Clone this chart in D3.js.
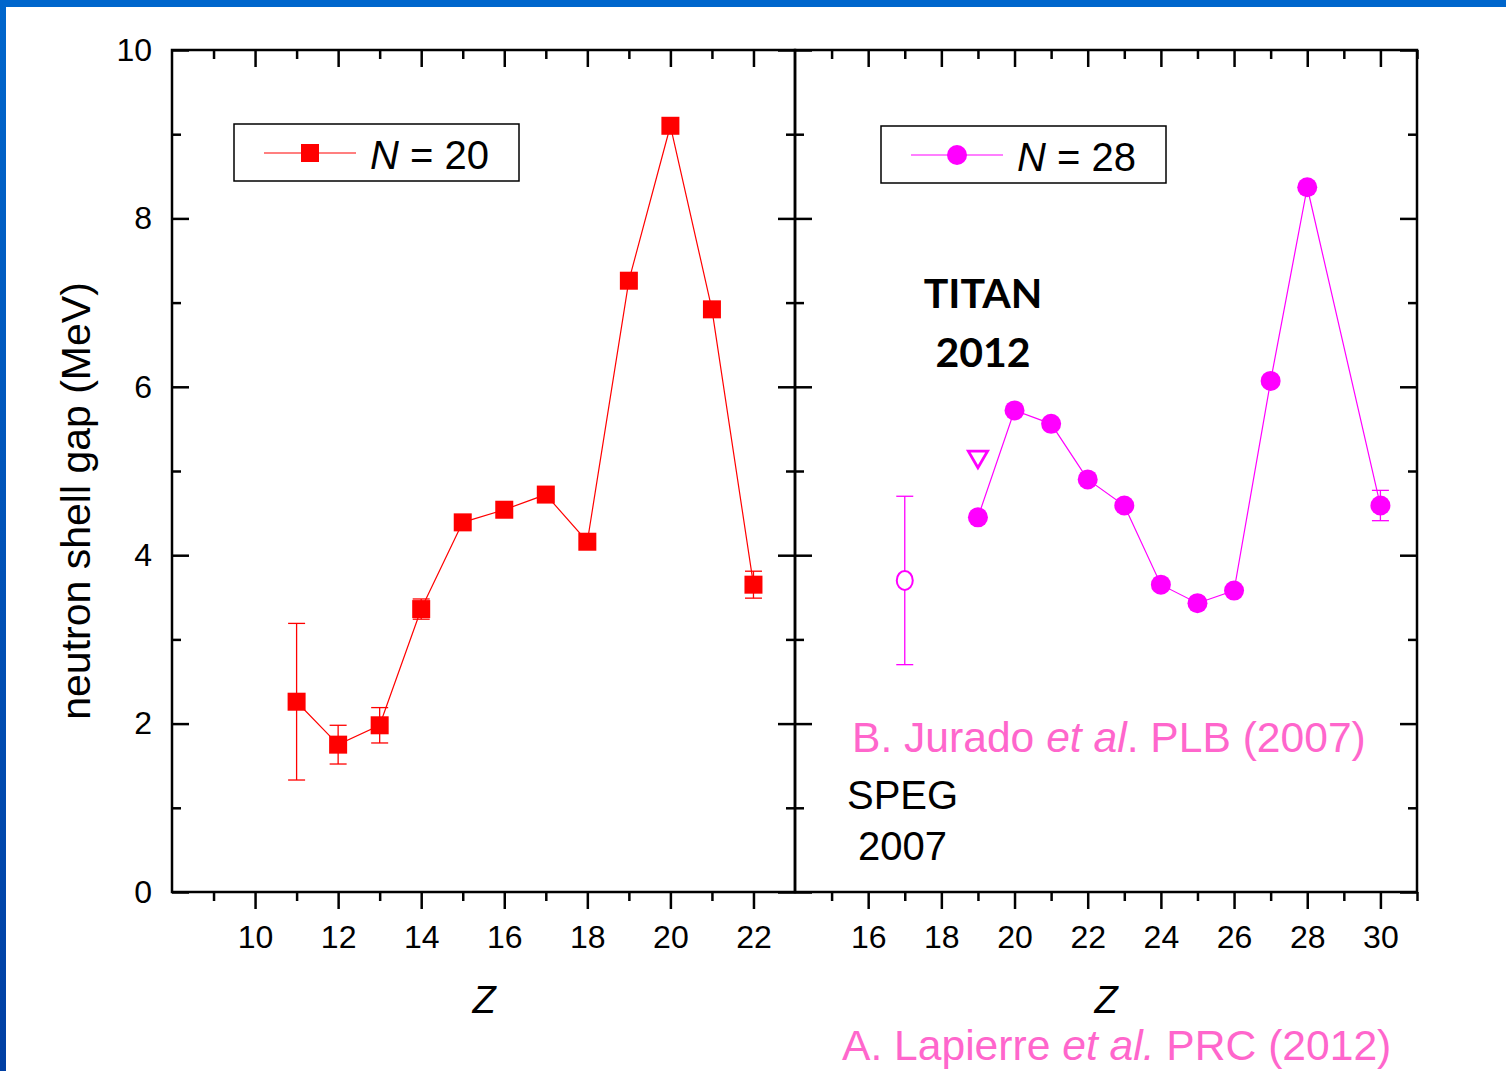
<!DOCTYPE html>
<html>
<head>
<meta charset="utf-8">
<script src="https://cdn.jsdelivr.net/npm/d3@7"></script>
<style>
  html, body { margin: 0; padding: 0; background: #fff; }
  svg { display: block; }
  text { font-family: "Liberation Sans", Arial, sans-serif; }
</style>
</head>
<body>
<svg id="chart" width="1506" height="1071"></svg>
<script>
// N = 20 isotones: proton number, shell gap (MeV), symmetric uncertainty
const zN20   = [11, 12, 13, 14, 15, 16, 17, 18, 19, 20, 21, 22];
const gapN20 = [2.26, 1.75, 1.98, 3.36, 4.39, 4.54, 4.72, 4.16, 7.26, 9.10, 6.92, 3.65];
const errN20 = [0.93, 0.23, 0.21, 0.12, 0, 0, 0, 0, 0, 0, 0, 0.16];

// N = 28 isotones (TITAN 2012)
const zN28   = [19, 20, 21, 22, 23, 24, 25, 26, 27, 28, 30];
const gapN28 = [4.45, 5.72, 5.56, 4.90, 4.59, 3.65, 3.43, 3.58, 6.07, 8.37, 4.59];
const errN28 = [0, 0, 0, 0, 0, 0, 0, 0, 0, 0, 0.18];

// SPEG 2007 value (open circle) and upper value (open triangle)
const zSpeg   = [17];
const gapSpeg = [3.70];
const errSpeg = [1.00];
const zLimit   = [19];
const gapLimit = [5.17];

// Axis ticks
const yMajor = [0, 2, 4, 6, 8, 10];
const yMinor = [1, 3, 5, 7, 9];
const leftMajor  = [10, 12, 14, 16, 18, 20, 22];
const leftMinor  = [9, 11, 13, 15, 17, 19, 21];
const rightMajor = [16, 18, 20, 22, 24, 26, 28, 30];
const rightMinor = [15, 17, 19, 21, 23, 25, 27, 29, 31];

const RED = "#ff0000";
const MAGENTA = "#ff00ff";
const PINK = "#ff66cc";

const svg = d3.select("#chart");

// slide frame: blue bar on top and a darkening bar on the left
const defs = svg.append("defs");
const grad = defs.append("linearGradient").attr("id", "sideBar")
  .attr("x1", 0).attr("y1", 0).attr("x2", 0).attr("y2", 1);
grad.append("stop").attr("offset", "0%").attr("stop-color", "#0066cc");
grad.append("stop").attr("offset", "100%").attr("stop-color", "#003fa3");
svg.append("rect").attr("x", 0).attr("y", 0).attr("width", 1506).attr("height", 7).attr("fill", "#0066cc");
svg.append("rect").attr("x", 0).attr("y", 0).attr("width", 6).attr("height", 1071).attr("fill", "url(#sideBar)");

const plotTop = 50, plotBottom = 892;
const y = d3.scaleLinear().domain([0, 10]).range([plotBottom, plotTop]);
const xL = d3.scaleLinear().domain([8, 23]).range([172, 795]);
const xR = d3.scaleLinear().domain([14, 31]).range([795, 1417]);

function styleAxis(g) {
  g.select(".domain").remove();
  g.selectAll(".tick line").attr("stroke", "#000").attr("stroke-width", 2.5);
  g.selectAll(".tick text").attr("fill", "#000")
    .style("font-family", "'Liberation Sans', Arial, sans-serif").style("font-size", "32px");
}

function panel(x, major, minor, showYLabels) {
  const [x0, x1] = x.range();
  // bottom axis, ticks pointing outward
  svg.append("g").attr("transform", `translate(0,${plotBottom})`)
    .call(d3.axisBottom(x).tickValues(major).tickSize(17).tickPadding(16).tickFormat(d3.format("d")))
    .call(styleAxis);
  svg.append("g").attr("transform", `translate(0,${plotBottom})`)
    .call(d3.axisBottom(x).tickValues(minor).tickSize(9).tickFormat(""))
    .call(styleAxis);
  // top axis, ticks pointing inward
  svg.append("g").attr("transform", `translate(0,${plotTop})`)
    .call(d3.axisTop(x).tickValues(major).tickSize(-17).tickFormat(""))
    .call(styleAxis);
  svg.append("g").attr("transform", `translate(0,${plotTop})`)
    .call(d3.axisTop(x).tickValues(minor).tickSize(-9).tickFormat(""))
    .call(styleAxis);
  // left axis, ticks inward
  const yl = d3.axisLeft(y).tickValues(yMajor).tickSize(-17).tickPadding(20)
    .tickFormat(showYLabels ? d3.format("d") : "");
  svg.append("g").attr("transform", `translate(${x0},0)`).call(yl).call(styleAxis);
  svg.append("g").attr("transform", `translate(${x0},0)`)
    .call(d3.axisLeft(y).tickValues(yMinor).tickSize(-9).tickFormat(""))
    .call(styleAxis);
  // right axis, ticks inward
  svg.append("g").attr("transform", `translate(${x1},0)`)
    .call(d3.axisLeft(y).tickValues(yMajor).tickSize(17).tickFormat(""))
    .call(styleAxis);
  svg.append("g").attr("transform", `translate(${x1},0)`)
    .call(d3.axisLeft(y).tickValues(yMinor).tickSize(9).tickFormat(""))
    .call(styleAxis);
  // frame
  svg.append("rect").attr("x", x0).attr("y", plotTop)
    .attr("width", x1 - x0).attr("height", plotBottom - plotTop)
    .attr("fill", "none").attr("stroke", "#000").attr("stroke-width", 2.5);
}

panel(xL, leftMajor, leftMinor, true);
panel(xR, rightMajor, rightMinor, false);

function errorBars(x, zs, vals, errs, color) {
  const g = svg.append("g").attr("stroke", color).attr("stroke-width", 1.3).attr("fill", "none");
  zs.forEach((z, i) => {
    if (!errs[i]) return;
    const cx = x(z), yt = y(vals[i] + errs[i]), yb = y(vals[i] - errs[i]);
    g.append("line").attr("x1", cx).attr("x2", cx).attr("y1", yt).attr("y2", yb);
    g.append("line").attr("x1", cx - 8.5).attr("x2", cx + 8.5).attr("y1", yt).attr("y2", yt);
    g.append("line").attr("x1", cx - 8.5).attr("x2", cx + 8.5).attr("y1", yb).attr("y2", yb);
  });
}

function seriesLine(x, zs, vals, color) {
  const pts = zs.map((z, i) => [z, vals[i]]);
  svg.append("path").datum(pts)
    .attr("d", d3.line().x(d => x(d[0])).y(d => y(d[1])))
    .attr("fill", "none").attr("stroke", color).attr("stroke-width", 1.2);
}

// N = 20 series
errorBars(xL, zN20, gapN20, errN20, RED);
seriesLine(xL, zN20, gapN20, RED);
svg.append("g").selectAll("rect").data(zN20).join("rect")
  .attr("x", (d) => xL(d) - 9).attr("y", (d, i) => y(gapN20[i]) - 9)
  .attr("width", 18).attr("height", 18).attr("fill", RED);

// N = 28 series
errorBars(xR, zN28, gapN28, errN28, MAGENTA);
seriesLine(xR, zN28, gapN28, MAGENTA);
svg.append("g").selectAll("circle").data(zN28).join("circle")
  .attr("cx", d => xR(d)).attr("cy", (d, i) => y(gapN28[i]))
  .attr("r", 10).attr("fill", MAGENTA);

// SPEG point
errorBars(xR, zSpeg, gapSpeg, errSpeg, MAGENTA);
svg.append("g").selectAll("ellipse").data(zSpeg).join("ellipse")
  .attr("cx", d => xR(d)).attr("cy", (d, i) => y(gapSpeg[i]))
  .attr("rx", 8).attr("ry", 9.5)
  .attr("fill", "#fff").attr("stroke", MAGENTA).attr("stroke-width", 2);

// open down-pointing triangle
svg.append("g").selectAll("path").data(zLimit).join("path")
  .attr("d", d3.symbol(d3.symbolTriangle, 160))
  .attr("transform", (d, i) => `translate(${xR(d)},${y(gapLimit[i])}) rotate(180)`)
  .attr("fill", "none").attr("stroke", MAGENTA).attr("stroke-width", 2.8);

// legends
function legend(x0, y0, color, symbol, label) {
  const g = svg.append("g");
  g.append("rect").attr("x", x0).attr("y", y0).attr("width", 285).attr("height", 57)
    .attr("fill", "#fff").attr("stroke", "#000").attr("stroke-width", 1.5);
  const cy = y0 + 29;
  g.append("line").attr("x1", x0 + 30).attr("x2", x0 + 122).attr("y1", cy).attr("y2", cy)
    .attr("stroke", color).attr("stroke-width", 1.2);
  if (symbol === "square") {
    g.append("rect").attr("x", x0 + 76 - 9).attr("y", cy - 9).attr("width", 18).attr("height", 18).attr("fill", color);
  } else {
    g.append("circle").attr("cx", x0 + 76).attr("cy", cy).attr("r", 10).attr("fill", color);
  }
  const t = g.append("text").attr("x", x0 + 136).attr("y", cy + 16)
    .style("font-size", "40px").attr("fill", "#000");
  t.append("tspan").style("font-style", "italic").text("N");
  t.append("tspan").text(" = " + label);
}
legend(234, 124, RED, "square", "20");
legend(881, 126, MAGENTA, "circle", "28");

// axis titles
svg.append("text")
  .attr("transform", "translate(90,501) rotate(-90)")
  .attr("text-anchor", "middle").style("font-size", "41px").attr("fill", "#000")
  .text("neutron shell gap (MeV)");
svg.append("text").attr("x", 484).attr("y", 1013).attr("text-anchor", "middle")
  .style("font-size", "38px").style("font-style", "italic").text("Z");
svg.append("text").attr("x", 1106).attr("y", 1013).attr("text-anchor", "middle")
  .style("font-size", "38px").style("font-style", "italic").text("Z");

// annotations
svg.append("text").attr("x", 983).attr("y", 308).attr("text-anchor", "middle")
  .style("font-family", "Lato, 'Open Sans', sans-serif").style("font-weight", "bold").style("font-size", "41px")
  .text("TITAN");
svg.append("text").attr("x", 983).attr("y", 367).attr("text-anchor", "middle")
  .style("font-family", "Lato, 'Open Sans', sans-serif").style("font-weight", "bold").style("font-size", "41px")
  .text("2012");

function citation(x, yb, parts) {
  const t = svg.append("text").attr("x", x).attr("y", yb).style("font-size", "42.6px").attr("fill", PINK);
  parts.forEach(([s, it]) => t.append("tspan").style("font-style", it ? "italic" : "normal").text(s));
}
citation(852, 752, [["B. Jurado ", false], ["et al", true], [". PLB (2007)", false]]);
citation(842, 1060, [["A. Lapierre ", false], ["et al.", true], [" PRC (2012)", false]]);

svg.append("text").attr("x", 847).attr("y", 809).style("font-size", "40px").text("SPEG");
svg.append("text").attr("x", 858).attr("y", 860).style("font-size", "40px").text("2007");
</script>
</body>
</html>
